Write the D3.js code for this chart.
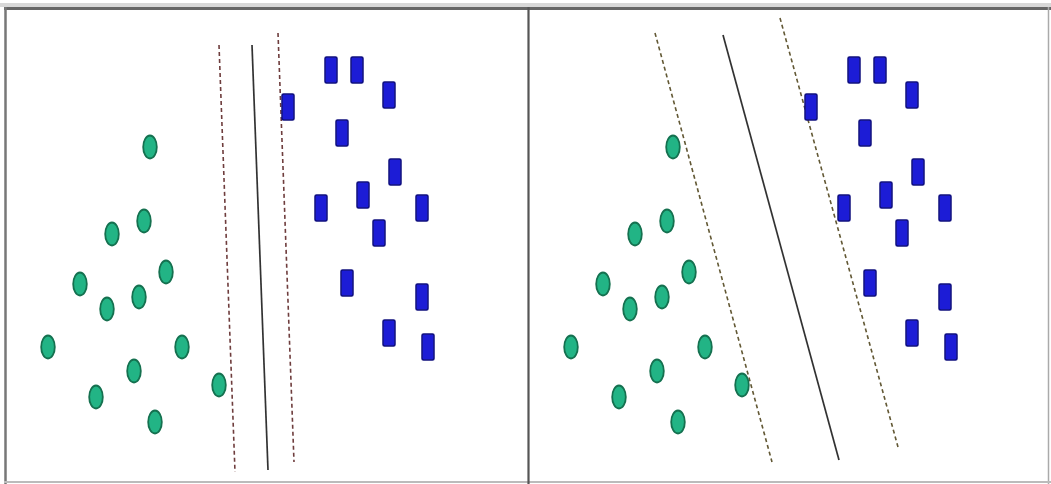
<!DOCTYPE html>
<html>
<head>
<meta charset="utf-8">
<script src="https://cdn.jsdelivr.net/npm/d3@7"></script>
<style>
  body { margin: 0; background: #fff; }
  svg { display: block; }
</style>
</head>
<body>
<div id="wrapper"></div>
<script>
// points are the same in both panels, in panel units (0..523 wide, 0..484 tall)
const greenX = [145, 139, 107, 161, 75, 134, 102, 43, 177, 129, 91, 214, 150];
const greenY = [147, 221, 234, 272, 284, 297, 309, 347, 347, 371, 397, 385, 422];

const blueX = [326, 352, 384, 283, 337, 390, 358, 316, 417, 374, 342, 417, 384, 423];
const blueY = [70, 70, 95, 107, 133, 172, 195, 208, 208, 233, 283, 297, 333, 347];

// separating lines per panel: [x1, y1, x2, y2]
const leftLines = {
    lower: [214, 45, 230, 472],
    middle: [247, 45, 263, 470],
    upper: [273, 33, 289, 462]
};
const rightLines = {
    lower: [127, 33, 244, 462],
    middle: [195, 35, 311, 460],
    upper: [252, 18, 370, 447]
};

let dimensions = {
    width: 1051,
    height: 484,
    panelWidth: 523,
    left: 5,
};

let svg = d3.select("#wrapper")
    .append("svg")
    .attr("width", dimensions.width)
    .attr("height", dimensions.height);

svg.append("defs").append("filter")
    .attr("id", "soft")
    .append("feGaussianBlur")
    .attr("stdDeviation", 0.6);

let yScale = d3.scaleLinear()
    .domain([0, 484])
    .range([0, 484]);

function drawPanel(index, lines, dashColor) {
    let x0 = dimensions.left + index * dimensions.panelWidth;
    let xScale = d3.scaleLinear()
        .domain([0, dimensions.panelWidth])
        .range([x0, x0 + dimensions.panelWidth]);

    let g = svg.append("g").attr("filter", "url(#soft)");

    Object.keys(lines).forEach(function (k) {
        let l = lines[k];
        g.append("line")
            .attr("x1", xScale(l[0]))
            .attr("y1", yScale(l[1]))
            .attr("x2", xScale(l[2]))
            .attr("y2", yScale(l[3]))
            .attr("stroke", k == "middle" ? "#333" : dashColor)
            .attr("stroke-width", k == "middle" ? 1.7 : 1.6)
            .attr("stroke-dasharray", k == "middle" ? null : "4,3");
    });

    g.selectAll(".green")
        .data(d3.range(greenX.length))
        .enter()
        .append("ellipse")
        .attr("cx", i => xScale(greenX[i]))
        .attr("cy", i => yScale(greenY[i]))
        .attr("rx", 6.8)
        .attr("ry", 11.5)
        .attr("fill", "#23b485")
        .attr("stroke", "#13704f")
        .attr("stroke-width", 1.8);

    g.selectAll(".blue")
        .data(d3.range(blueX.length))
        .enter()
        .append("rect")
        .attr("x", i => xScale(blueX[i]) - 6)
        .attr("y", i => yScale(blueY[i]) - 13)
        .attr("width", 12)
        .attr("height", 26)
        .attr("rx", 1.5)
        .attr("fill", "#1c1cd6")
        .attr("stroke", "#10107e")
        .attr("stroke-width", 1.5);
}

drawPanel(0, leftLines, "#6e3c3c");
drawPanel(1, rightLines, "#625834");

// frame
svg.append("rect")
    .attr("x", 0).attr("y", 3)
    .attr("width", 1051).attr("height", 4)
    .attr("fill", "#d8d8d8");
svg.append("line")
    .attr("x1", 4).attr("y1", 8.5).attr("x2", 1051).attr("y2", 8.5)
    .attr("stroke", "#666").attr("stroke-width", 3);
svg.append("line")
    .attr("x1", 5.5).attr("y1", 7).attr("x2", 5.5).attr("y2", 484)
    .attr("stroke", "#777").attr("stroke-width", 2.5);
svg.append("line")
    .attr("x1", 1048.5).attr("y1", 7).attr("x2", 1048.5).attr("y2", 484)
    .attr("stroke", "#aaa").attr("stroke-width", 1.5);
svg.append("line")
    .attr("x1", 4).attr("y1", 482).attr("x2", 1051).attr("y2", 482)
    .attr("stroke", "#bbb").attr("stroke-width", 2);
svg.append("line")
    .attr("x1", 528.5).attr("y1", 7).attr("x2", 528.5).attr("y2", 484)
    .attr("stroke", "#555").attr("stroke-width", 2.2);
</script>
</body>
</html>
